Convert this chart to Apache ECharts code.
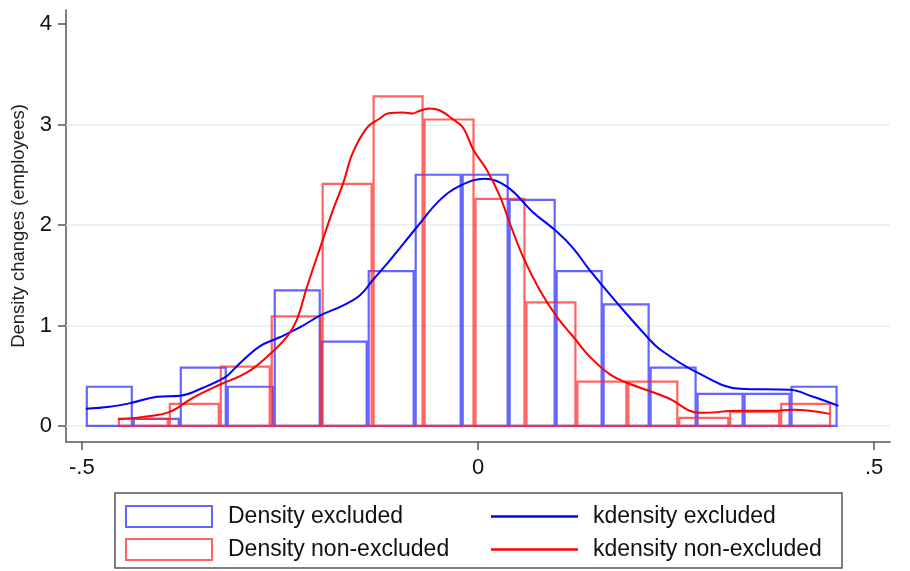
<!DOCTYPE html>
<html>
<head>
<meta charset="utf-8">
<script src="https://cdn.jsdelivr.net/npm/echarts@6/dist/echarts.min.js"></script>
<style>
  html, body { margin: 0; padding: 0; background: #fff; }
  #chart { width: 910px; height: 571px; }
</style>
</head>
<body>
<div id="chart"></div>
<script>
// histogram bins (x start, width), heights
const exclStart = -0.495;
const exclWidth = 0.0593;
const exclHeights = [0.39, 0.07, 0.58, 0.39, 1.35, 0.84, 1.54, 2.50, 2.50, 2.25, 1.54, 1.21, 0.58, 0.32, 0.32, 0.39];

const nonStart = -0.4545;
const nonWidth = 0.0643;
const nonHeights = [0.07, 0.22, 0.59, 1.09, 2.41, 3.28, 3.05, 2.26, 1.23, 0.44, 0.44, 0.08, 0.14, 0.22];

// kernel density curves [x, density]
const kdExcl = [
  [-0.495, 0.17], [-0.465, 0.19], [-0.437, 0.23], [-0.405, 0.29], [-0.376, 0.30],
  [-0.347, 0.38], [-0.318, 0.49], [-0.305, 0.59], [-0.276, 0.79], [-0.251, 0.88],
  [-0.225, 0.98], [-0.199, 1.10], [-0.170, 1.20], [-0.149, 1.30], [-0.133, 1.45],
  [-0.111, 1.65], [-0.077, 1.98], [-0.048, 2.25], [-0.023, 2.39], [0.009, 2.46],
  [0.037, 2.38], [0.069, 2.13], [0.100, 1.93], [0.120, 1.77], [0.141, 1.55],
  [0.176, 1.22], [0.213, 0.89], [0.230, 0.76], [0.277, 0.53], [0.331, 0.37],
  [0.394, 0.36], [0.423, 0.29], [0.455, 0.20]
];
const kdNon = [
  [-0.4545, 0.07], [-0.423, 0.09], [-0.389, 0.14], [-0.360, 0.28], [-0.326, 0.41],
  [-0.292, 0.53], [-0.266, 0.69], [-0.241, 0.89], [-0.229, 1.05], [-0.216, 1.38],
  [-0.199, 1.78], [-0.183, 2.15], [-0.170, 2.42], [-0.158, 2.72], [-0.140, 2.97],
  [-0.124, 3.06], [-0.114, 3.11], [-0.095, 3.12], [-0.082, 3.11], [-0.076, 3.13],
  [-0.061, 3.16], [-0.048, 3.14], [-0.033, 3.06], [-0.019, 2.97], [-0.006, 2.75],
  [0.011, 2.55], [0.028, 2.28], [0.040, 2.02], [0.057, 1.68], [0.078, 1.35],
  [0.100, 1.08], [0.120, 0.89], [0.141, 0.69], [0.167, 0.51], [0.188, 0.43],
  [0.239, 0.28], [0.280, 0.13], [0.331, 0.15], [0.372, 0.15], [0.398, 0.16],
  [0.444, 0.12]
];

const xTicks = [-0.5, 0, 0.5];
const xTickLabels = ['-.5', '0', '.5'];
const yTicks = [0, 1, 2, 3, 4];
const gridValues = [0, 1, 2, 3];

const blueBar = 'rgba(40,40,255,0.72)';
const redBar = 'rgba(255,40,40,0.72)';
const font = 'Liberation Sans';

function bins(start, width, heights) {
  return heights.map((h, i) => [start + i * width, start + (i + 1) * width, h]);
}

function barRenderer(color) {
  return function (params, api) {
    const p0 = api.coord([api.value(0), api.value(2)]);
    const p1 = api.coord([api.value(1), 0]);
    return {
      type: 'rect',
      shape: { x: p0[0] + 1, y: p0[1], width: p1[0] - p0[0] - 2, height: p1[1] - p0[1] },
      style: { fill: 'none', stroke: color, lineWidth: 2.2 }
    };
  };
}

const chart = echarts.init(document.getElementById('chart'));

chart.setOption({
  backgroundColor: '#fff',
  animation: false,
  grid: { left: 66, right: 20, top: 10, bottom: 129 },
  xAxis: {
    type: 'value',
    min: -0.52,
    max: 0.52,
    axisLine: { onZero: false, lineStyle: { color: '#555', width: 1.5 } },
    axisTick: { length: 8, customValues: xTicks, lineStyle: { color: '#555', width: 1.5 } },
    axisLabel: {
      customValues: xTicks,
      margin: 15,
      fontSize: 22,
      fontFamily: font,
      color: '#111',
      formatter: v => xTickLabels[xTicks.indexOf(v)]
    },
    splitLine: { show: false }
  },
  yAxis: {
    type: 'value',
    min: -0.16,
    max: 4.14,
    name: 'Density changes (employees)',
    nameLocation: 'middle',
    nameGap: 35,
    nameTextStyle: { fontSize: 18.5, fontFamily: font, color: '#222' },
    axisLine: { show: true, onZero: false, lineStyle: { color: '#555', width: 1.5 } },
    axisTick: { show: true, length: 8, customValues: yTicks, lineStyle: { color: '#555', width: 1.5 } },
    axisLabel: { customValues: yTicks, margin: 14, fontSize: 22, fontFamily: font, color: '#111' },
    splitLine: { show: false }
  },
  legend: [
    {
      left: 125,
      top: 505,
      orient: 'vertical',
      padding: 0,
      itemGap: 10,
      itemWidth: 86,
      itemHeight: 21,
      textStyle: { fontSize: 23, lineHeight: 22, fontFamily: font, color: '#111', padding: [0, 0, 0, 11] },
      data: [
        { name: 'Density excluded', icon: 'rect', itemStyle: { color: '#fff', borderColor: blueBar, borderWidth: 2 } },
        { name: 'Density non-excluded', icon: 'rect', itemStyle: { color: '#fff', borderColor: redBar, borderWidth: 2 } }
      ]
    },
    {
      left: 491,
      top: 505,
      orient: 'vertical',
      padding: 0,
      itemGap: 10,
      itemWidth: 87,
      itemHeight: 2.5,
      textStyle: { fontSize: 23, lineHeight: 22, fontFamily: font, color: '#111', padding: [0, 0, 0, 10] },
      data: [
        { name: 'kdensity excluded', icon: 'rect', itemStyle: { color: '#0000ff', borderWidth: 0 } },
        { name: 'kdensity non-excluded', icon: 'rect', itemStyle: { color: '#ff0000', borderWidth: 0 } }
      ]
    }
  ],
  graphic: [
    {
      type: 'rect',
      silent: true,
      shape: { x: 115, y: 493, width: 727, height: 75 },
      style: { fill: 'none', stroke: '#555', lineWidth: 1.5 }
    }
  ],
  series: [
    {
      name: 'Density excluded',
      type: 'custom',
      renderItem: barRenderer(blueBar),
      itemStyle: { color: blueBar },
      encode: { x: [0, 1], y: 2 },
      data: bins(exclStart, exclWidth, exclHeights),
      z: 2
    },
    {
      name: 'Density non-excluded',
      type: 'custom',
      renderItem: barRenderer(redBar),
      itemStyle: { color: redBar },
      encode: { x: [0, 1], y: 2 },
      data: bins(nonStart, nonWidth, nonHeights),
      z: 3
    },
    {
      name: 'kdensity excluded',
      type: 'line',
      smooth: 0.4,
      showSymbol: false,
      symbol: 'none',
      lineStyle: { color: '#0000ff', width: 2 },
      itemStyle: { color: '#0000ff' },
      data: kdExcl,
      z: 4,
      markLine: {
        silent: true,
        symbol: 'none',
        label: { show: false },
        lineStyle: { color: '#e6eff2', width: 1.5, type: 'solid' },
        data: gridValues.map(v => ({ yAxis: v })),
        z: 1
      }
    },
    {
      name: 'kdensity non-excluded',
      type: 'line',
      smooth: 0.4,
      showSymbol: false,
      symbol: 'none',
      lineStyle: { color: '#ff0000', width: 2 },
      itemStyle: { color: '#ff0000' },
      data: kdNon,
      z: 5
    }
  ]
});
</script>
</body>
</html>
